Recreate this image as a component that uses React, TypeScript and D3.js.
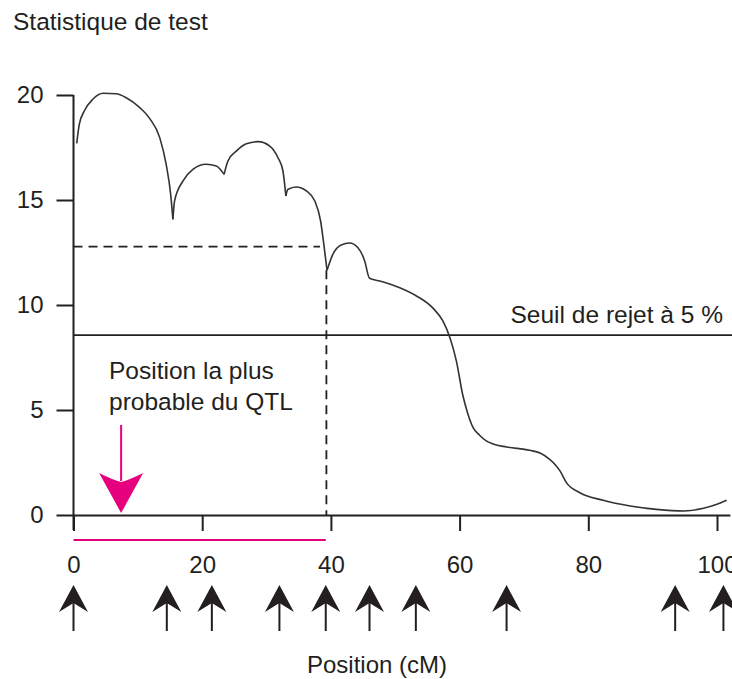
import React, { useEffect, useRef } from "react";
import * as d3 from "d3";

const WIDTH = 732;
const HEIGHT = 679;
const FONT = "'Liberation Sans', Arial, Helvetica, sans-serif";
const INK = "#231f20";
const PINK = "#e6007e";

// test statistic along the chromosome (cM, value), one arc between each cusp
const arcA: [number, number][] = [
  [0.5, 17.7], [0.9, 18.6], [1.7, 19.25], [3.0, 19.8], [4.6, 20.08], [6.6, 20.06],
  [8.2, 19.87], [10.3, 19.4], [11.8, 18.9], [13.4, 17.97], [14.4, 16.7], [15.1, 15.27],
  [15.45, 14.08],
];
const arcB: [number, number][] = [
  [15.45, 14.08], [15.7, 14.95], [17.0, 15.9], [18.55, 16.46], [20.6, 16.7],
  [22.2, 16.62], [23.4, 16.22],
];
const arcC: [number, number][] = [
  [23.4, 16.22], [24.0, 16.86], [25.3, 17.33], [26.86, 17.68], [28.7, 17.78],
  [30.5, 17.57], [31.8, 17.0], [32.55, 16.38], [33.0, 15.19],
];
const arcD: [number, number][] = [
  [33.0, 15.19], [33.3, 15.5], [34.6, 15.62], [36.2, 15.43], [37.5, 14.95],
  [38.4, 14.0], [38.9, 12.89], [39.4, 11.65],
];
const arcE: [number, number][] = [
  [39.4, 11.65], [40.3, 12.41], [41.6, 12.86], [42.9, 12.95], [44.2, 12.73],
  [45.25, 12.1], [46.0, 11.27], [47.6, 11.14], [50.7, 10.82], [53.3, 10.43],
  [55.9, 9.84], [57.4, 9.24], [58.5, 8.44], [59.5, 7.33], [60.5, 5.7], [61.3, 4.8],
  [62.1, 4.16], [63.1, 3.8], [64.2, 3.52], [65.2, 3.38], [67.3, 3.24], [70.9, 3.08],
  [72.5, 2.95], [74.0, 2.65], [75.0, 2.35], [75.6, 2.1], [76.6, 1.54], [78.7, 1.06],
  [82.3, 0.7], [86.5, 0.43], [90.6, 0.27], [94.8, 0.19], [97.9, 0.32], [100, 0.51],
  [101.5, 0.7],
];
const profileArcs = [arcA, arcB, arcC, arcD, arcE];

// marker positions (cM)
const markers = [0, 14.5, 21.5, 32, 39.2, 46, 53.2, 67.3, 93.5, 101];

const xTicks = [0, 20, 40, 60, 80, 100];
const yTicks = [0, 5, 10, 15, 20];

const threshold = 8.57;
const thresholdLabel = "Seuil de rejet à 5 %";
const supportLevel = 12.78;
const supportLevelEnd = 38.3;
const intervalEnd = 39.3;
const intervalBar = 39.2;
const qtlPosition = 7.4;

const App = () => {
  const ref = useRef<SVGSVGElement | null>(null);

  useEffect(() => {
    const svg = d3.select(ref.current);
    svg.selectAll("*").remove();

    const x = d3.scaleLinear().domain([0, 102]).range([73.5, 73.5 + 102 * 6.435]);
    const y = d3.scaleLinear().domain([0, 20]).range([515, 95]);

    // title
    svg
      .append("text")
      .attr("x", 13)
      .attr("y", 30)
      .attr("font-size", 24.5)
      .attr("fill", INK)
      .text("Statistique de test");

    // y axis
    const yAxis = svg
      .append("g")
      .attr("transform", `translate(${x(0)},0)`)
      .call(d3.axisLeft(y).tickValues(yTicks).tickSize(17).tickSizeOuter(0).tickPadding(13));
    yAxis.attr("font-size", 24).attr("font-family", FONT);
    yAxis.select(".domain").remove();
    yAxis.selectAll("line").attr("stroke", INK).attr("stroke-width", 2);
    yAxis.selectAll("text").attr("fill", INK);
    svg
      .append("line")
      .attr("x1", x(0))
      .attr("x2", x(0))
      .attr("y1", y(20))
      .attr("y2", y(0) + 15)
      .attr("stroke", INK)
      .attr("stroke-width", 2);

    // x axis
    const xAxis = svg
      .append("g")
      .attr("transform", `translate(0,${y(0)})`)
      .call(d3.axisBottom(x).tickValues(xTicks).tickSize(16).tickSizeOuter(0).tickPadding(25));
    xAxis.attr("font-size", 24).attr("font-family", FONT);
    xAxis.select(".domain").attr("stroke", INK).attr("stroke-width", 2);
    xAxis.selectAll("line").attr("stroke", INK).attr("stroke-width", 2);
    xAxis.selectAll("text").attr("fill", INK);

    // rejection threshold
    svg
      .append("line")
      .attr("x1", x(0))
      .attr("x2", WIDTH)
      .attr("y1", y(threshold))
      .attr("y2", y(threshold))
      .attr("stroke", INK)
      .attr("stroke-width", 1.8);
    svg
      .append("text")
      .attr("x", 723)
      .attr("y", y(threshold) - 12)
      .attr("text-anchor", "end")
      .attr("font-size", 24.5)
      .attr("fill", INK)
      .text(thresholdLabel);

    // support interval dashes
    svg
      .append("line")
      .attr("x1", x(0))
      .attr("x2", x(supportLevelEnd))
      .attr("y1", y(supportLevel))
      .attr("y2", y(supportLevel))
      .attr("stroke", INK)
      .attr("stroke-width", 1.8)
      .attr("stroke-dasharray", "9,6");
    svg
      .append("line")
      .attr("x1", x(intervalEnd))
      .attr("x2", x(intervalEnd))
      .attr("y1", y(arcD[arcD.length - 1][1]))
      .attr("y2", y(0))
      .attr("stroke", INK)
      .attr("stroke-width", 1.8)
      .attr("stroke-dasharray", "9,6");

    // profile curve
    const line = d3
      .line<[number, number]>()
      .x((d) => x(d[0]))
      .y((d) => y(d[1]))
      .curve(d3.curveMonotoneX);
    profileArcs.forEach((arc) => {
      svg
        .append("path")
        .datum(arc)
        .attr("fill", "none")
        .attr("stroke", "#333")
        .attr("stroke-width", 1.6)
        .attr("d", line);
    });

    // confidence bar
    svg
      .append("line")
      .attr("x1", x(0))
      .attr("x2", x(intervalBar))
      .attr("y1", 540)
      .attr("y2", 540)
      .attr("stroke", PINK)
      .attr("stroke-width", 2);

    // most probable position
    const qtl = svg.append("g").attr("transform", `translate(${x(qtlPosition)},${y(0) - 2})`);
    qtl
      .append("line")
      .attr("y1", -88)
      .attr("y2", -32)
      .attr("stroke", PINK)
      .attr("stroke-width", 2);
    qtl
      .append("path")
      .attr("d", "M0,0 L-22,-40 Q-8,-33 0,-31 Q8,-33 22,-40 Z")
      .attr("fill", PINK);
    const qtlText = svg
      .append("text")
      .attr("x", 109)
      .attr("y", 379)
      .attr("font-size", 24.5)
      .attr("fill", INK);
    qtlText.append("tspan").attr("x", 109).text("Position la plus");
    qtlText.append("tspan").attr("x", 109).attr("dy", 31).text("probable du QTL");

    // markers
    const marks = svg
      .selectAll("g.marker")
      .data(markers)
      .enter()
      .append("g")
      .attr("class", "marker")
      .attr("transform", (d) => `translate(${x(d)},631)`);
    marks
      .append("line")
      .attr("y1", -30)
      .attr("y2", 0)
      .attr("stroke", INK)
      .attr("stroke-width", 2);
    marks
      .append("path")
      .attr("d", "M0,-46 L14.5,-19 L0,-28 L-14.5,-19 Z")
      .attr("fill", INK);

    // x label
    svg
      .append("text")
      .attr("x", 377)
      .attr("y", 673)
      .attr("text-anchor", "middle")
      .attr("font-size", 24)
      .attr("fill", INK)
      .text("Position (cM)");
  }, []);

  return (
    <div style={{ position: "absolute", left: 0, top: 0 }}>
      <svg
        ref={ref}
        width={WIDTH}
        height={HEIGHT}
        style={{ display: "block", background: "#fff", fontFamily: FONT }}
      />
    </div>
  );
};

export default App;
